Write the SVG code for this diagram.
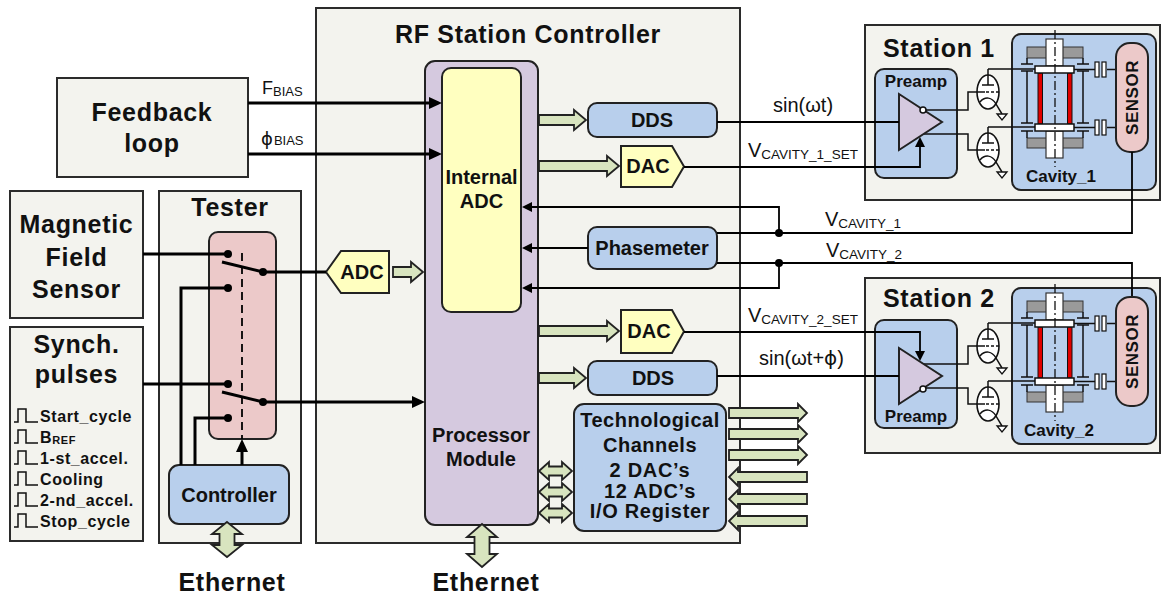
<svg xmlns="http://www.w3.org/2000/svg" width="1162" height="596" viewBox="0 0 1162 596">
<style>
text{font-family:"Liberation Sans",Arial,sans-serif;fill:#111}
.b{font-weight:bold}
.frame{fill:#f3f3ee;stroke:#2b2b2b;stroke-width:2}
.blue{fill:#b8cfec;stroke:#222;stroke-width:2}
.pink{fill:#ecc9c9;stroke:#222;stroke-width:2}
.lav{fill:#d5c9df;stroke:#222;stroke-width:2}
.yel{fill:#ffffc0;stroke:#222;stroke-width:2}
.grn{fill:#d8e4bf;stroke:#222;stroke-width:1.8}
.w{fill:none;stroke:#000;stroke-width:1.8}
.wt{fill:none;stroke:#000;stroke-width:3}
.thin{fill:none;stroke:#111;stroke-width:1.5}
.big{font-size:25px;font-weight:bold;letter-spacing:0.7px;text-anchor:middle}
.mid{font-size:20px;font-weight:bold;text-anchor:middle}
.sm{font-size:17px;font-weight:bold}
.pl{font-size:16px;font-weight:bold;letter-spacing:0.6px}
.lbl{font-size:20px}
.sub{font-size:13.5px}
.phi{font-family:"DejaVu Sans","Liberation Sans",sans-serif}
.dot{fill:#000}
</style>
<defs>
<marker id="ah" viewBox="0 0 13 12" refX="8" refY="6" markerWidth="13" markerHeight="12" markerUnits="userSpaceOnUse" orient="auto"><path d="M0,0 L13,6 L0,12 z" fill="#000"/></marker>
<marker id="as" viewBox="0 0 10 10" refX="7" refY="5" markerWidth="10" markerHeight="10" markerUnits="userSpaceOnUse" orient="auto"><path d="M0,0 L10,5 L0,10 z" fill="#000"/></marker>
<g id="tube">
<ellipse cx="0" cy="0" rx="11" ry="17" fill="#fff" stroke="#111" stroke-width="1.6"/>
<path d="M0,-23 V-7 M-6,-7 H6" class="thin"/>
<path d="M-11,0 H-3" class="thin"/>
<path d="M-2,0 H11" class="thin" stroke-dasharray="3 2"/>
<path d="M-8,10 C-3,4 4,5 8,12 L14,22" class="thin"/>
<polygon points="9,22 19,22 14,28" fill="#fff" stroke="#111" stroke-width="1.3"/>
</g>
<g id="cavityArt">
<rect class="blue" x="1012" y="34" width="144" height="156" rx="9"/>
<rect x="1027" y="47" width="56" height="11" fill="#9a9a9a" stroke="#333" stroke-width="1"/>
<rect x="1027" y="138" width="56" height="10" fill="#9a9a9a" stroke="#333" stroke-width="1"/>
<path class="thin" d="M1027,58 V64 M1021,64 H1033 M1021,71 H1033 M1027,71 V123 M1021,123 H1033 M1021,131 H1033 M1027,131 V138 M1083,58 V64 M1077,64 H1089 M1077,71 H1089 M1083,71 V123 M1077,123 H1089 M1077,131 H1089 M1083,131 V138"/>
<rect x="1046" y="39" width="17" height="27" fill="#fff" stroke="#333" stroke-width="1.2"/>
<rect x="1046" y="131" width="17" height="27" fill="#fff" stroke="#333" stroke-width="1.2"/>
<rect x="1038" y="73" width="4.5" height="51" fill="#e00000" stroke="#111" stroke-width="1"/>
<rect x="1067.5" y="73" width="4.5" height="51" fill="#e00000" stroke="#111" stroke-width="1"/>
<rect x="1035" y="66" width="39" height="7" fill="#fff" stroke="#111" stroke-width="1.5"/>
<rect x="1035" y="124" width="39" height="7" fill="#fff" stroke="#111" stroke-width="1.5"/>
<path d="M1055,30 V167" fill="none" stroke="#111" stroke-width="1.3" stroke-dasharray="9 3 2 3"/>
<path class="thin" d="M1074,69.5 H1095 M1107,69.5 H1116 M1074,127.5 H1095 M1107,127.5 H1116"/>
<rect x="1095" y="62" width="4" height="15" fill="#fff" stroke="#111" stroke-width="1.2"/>
<rect x="1102" y="62" width="4" height="15" fill="#fff" stroke="#111" stroke-width="1.2"/>
<rect x="1095" y="120" width="4" height="15" fill="#fff" stroke="#111" stroke-width="1.2"/>
<rect x="1102" y="120" width="4" height="15" fill="#fff" stroke="#111" stroke-width="1.2"/>
<rect class="pink" x="1116" y="43" width="32" height="109" rx="14"/>
<path class="thin" d="M988,69 H1035 M988,127 H1035"/>
<use href="#tube" x="988" y="92"/>
<use href="#tube" x="988" y="150"/>
<path class="thin" d="M923,110 H968 V92 H977 M923,134 H968 V150 H977"/>
<polygon class="lav" points="899,94 899,150 942,122" stroke-width="1.5"/>
</g>
</defs>
<rect width="1162" height="596" fill="#fff"/>

<g id="rf-controller">
<rect class="frame" x="316" y="8" width="424" height="535"/>
<text class="big" x="528" y="43" letter-spacing="1">RF Station Controller</text>
</g>
<g id="feedback-loop">
<rect class="frame" x="57" y="78" width="191" height="99"/>
<text class="big" x="152" y="121">Feedback</text>
<text class="big" x="152" y="152">loop</text>
</g>
<g id="magnetic-sensor">
<rect class="frame" x="10" y="191" width="133" height="127"/>
<text class="big" x="76.5" y="233">Magnetic</text>
<text class="big" x="76.5" y="266">Field</text>
<text class="big" x="76.5" y="298">Sensor</text>
</g>
<g id="synch-pulses">
<rect class="frame" x="10" y="327" width="133" height="214"/>
<text class="big" x="76.5" y="353">Synch.</text>
<text class="big" x="76.5" y="383">pulses</text>
<path class="thin" stroke-width="1.6" d="M14,422 H18 V409 H26 V422 H38 M14,443 H18 V430 H26 V443 H38 M14,464 H18 V451 H26 V464 H38 M14,485 H18 V472 H26 V485 H38 M14,506 H18 V493 H26 V506 H38 M14,527 H18 V514 H26 V527 H38"/>
<text class="pl" x="40" y="422">Start_cycle</text>
<text class="pl" x="40" y="443">B<tspan font-size="11" dy="1">REF</tspan></text>
<text class="pl" x="40" y="464">1-st_accel.</text>
<text class="pl" x="40" y="485">Cooling</text>
<text class="pl" x="40" y="506">2-nd_accel.</text>
<text class="pl" x="40" y="527">Stop_cycle</text>
</g>
<g id="tester">
<rect class="frame" x="159" y="191" width="142" height="352"/>
<text class="big" x="230" y="216">Tester</text>
<rect class="pink" x="209" y="232" width="67" height="207" rx="9"/>
<path d="M242,253 V439" fill="none" stroke="#000" stroke-width="1.8" stroke-dasharray="8 5"/>
<path class="wt" d="M222,262 L263,272 M222,392 L263,402"/>
<circle class="dot" cx="228" cy="254" r="4"/>
<circle class="dot" cx="228" cy="288" r="4"/>
<circle class="dot" cx="263" cy="272" r="4"/>
<circle class="dot" cx="228" cy="384" r="4"/>
<circle class="dot" cx="228" cy="418" r="4"/>
<circle class="dot" cx="263" cy="402" r="4"/>
</g>
<g id="controller">
<rect class="blue" x="169" y="465" width="120" height="59" rx="10"/>
<text class="mid" x="229" y="502">Controller</text>
</g>
<g id="adc">
<polygon class="yel" points="326,272 341,251 389,251 389,293 341,293"/>
<text class="mid" x="362" y="279">ADC</text>
</g>
<g id="processor-module">
<rect class="lav" x="425" y="61" width="113" height="464" rx="10"/>
<text class="mid" x="481" y="442" font-size="21">Processor</text>
<text class="mid" x="481" y="466" font-size="21">Module</text>
</g>
<g id="internal-adc">
<rect class="yel" x="442" y="68" width="79" height="244" rx="9"/>
<text class="mid" x="481.5" y="184" font-size="18.5">Internal</text>
<text class="mid" x="481.5" y="208" font-size="18.5">ADC</text>
</g>
<g id="dds1">
<rect class="blue" x="588" y="103" width="129" height="34" rx="9"/>
<text class="mid" x="652" y="127">DDS</text>
</g>
<g id="dac1">
<polygon class="yel" points="621,146 672,146 684,166.5 672,187 621,187"/>
<text class="mid" x="648" y="173">DAC</text>
</g>
<g id="phasemeter">
<rect class="blue" x="588" y="227" width="129" height="42" rx="9"/>
<text class="mid" x="652" y="255">Phasemeter</text>
</g>
<g id="dac2">
<polygon class="yel" points="621,310 672,310 684,331.5 672,353 621,353"/>
<text class="mid" x="649" y="338">DAC</text>
</g>
<g id="dds2">
<rect class="blue" x="588" y="361" width="129" height="34" rx="9"/>
<text class="mid" x="653" y="385">DDS</text>
</g>
<g id="tech-channels">
<rect class="blue" x="574" y="404" width="152" height="127" rx="10"/>
<text class="mid" x="650" y="427" letter-spacing="0.5">Technological</text>
<text class="mid" x="650" y="452" letter-spacing="0.5">Channels</text>
<text class="mid" x="650" y="477" font-size="16.5" letter-spacing="0.7">2 DAC’s</text>
<text class="mid" x="650" y="498" font-size="16.5" letter-spacing="0.7">12 ADC’s</text>
<text class="mid" x="650" y="518" font-size="16.5" letter-spacing="0.7">I/O Register</text>
</g>
<g id="station1">
<rect class="frame" x="865" y="25" width="295" height="175"/>
<text class="b" x="883" y="57" font-size="25" letter-spacing="0.7">Station 1</text>
<rect class="blue" x="875" y="69" width="82" height="109" rx="9"/>
<text class="sm" x="916" y="87" text-anchor="middle">Preamp</text>
<use href="#cavityArt"/>
<circle cx="923" cy="110" r="3" fill="#fff" stroke="#111" stroke-width="1.5"/>
<text class="sm" x="1026" y="182">Cavity_1</text>
<text class="sm" transform="translate(1138,97.5) rotate(-90)" text-anchor="middle" letter-spacing="0.5">SENSOR</text>
</g>
<g id="station2">
<rect class="frame" x="865" y="278" width="295" height="175"/>
<text class="b" x="883" y="307" font-size="25" letter-spacing="0.7">Station 2</text>
<rect class="blue" x="875" y="320" width="82" height="108" rx="9"/>
<text class="sm" x="916" y="422" text-anchor="middle">Preamp</text>
<use href="#cavityArt" transform="translate(0,254)"/>
<circle cx="923" cy="389" r="3" fill="#fff" stroke="#111" stroke-width="1.5"/>
<text class="sm" x="1024" y="436">Cavity_2</text>
<text class="sm" transform="translate(1138,351.5) rotate(-90)" text-anchor="middle" letter-spacing="0.5">SENSOR</text>
</g>

<g id="connectors">
<path class="wt" d="M248,103 H437" marker-end="url(#ah)"/>
<path class="wt" d="M248,154 H437" marker-end="url(#ah)"/>
<path class="wt" d="M143,254 H228 M143,384 H228 M263,272 H326 M181,465 V288 H228 M195,465 V418 H228"/>
<path class="wt" d="M263,402 H420" marker-end="url(#ah)"/>
<path class="wt" d="M242,465 V444" marker-end="url(#ah)"/>
<path class="w" d="M717,122 H899 M717,376 H899"/>
<path class="w" d="M684,167 H920 V140" marker-end="url(#as)"/>
<path class="w" d="M684,332 H920 V358" marker-end="url(#as)"/>
<path class="w" d="M1132,152 V233 H717 M1132,296 V263 H717"/>
<path class="w" d="M779,233 V207 H525" marker-end="url(#as)"/>
<path class="w" d="M588,248 H525" marker-end="url(#as)"/>
<path class="w" d="M779,263 V288 H525" marker-end="url(#as)"/>
<circle class="dot" cx="779" cy="233" r="4"/>
<circle class="dot" cx="779" cy="263" r="4"/>
<polygon class="grn" points="393,267 411,267 411,262 423,272 411,282 411,277 393,277"/>
<polygon class="grn" points="539,115 574,115 574,110 586,120 574,130 574,125 539,125"/>
<polygon class="grn" points="539,161 607,161 607,156 619,166 607,176 607,171 539,171"/>
<polygon class="grn" points="539,326 607,326 607,321 619,331 607,341 607,336 539,336"/>
<polygon class="grn" points="539,373 574,373 574,368 586,378 574,388 574,383 539,383"/>
<polygon class="grn" points="539,471 549,462 549,466.5 562,466.5 562,462 572,471 562,480 562,475.5 549,475.5 549,480"/>
<polygon class="grn" points="539,492 549,483 549,487.5 562,487.5 562,483 572,492 562,501 562,496.5 549,496.5 549,501"/>
<polygon class="grn" points="539,513 549,504 549,508.5 562,508.5 562,504 572,513 562,522 562,517.5 549,517.5 549,522"/>
<polygon class="grn" points="729,408 798,408 798,404 807,413 798,422 798,418 729,418"/>
<polygon class="grn" points="729,429 798,429 798,425 807,434 798,443 798,439 729,439"/>
<polygon class="grn" points="729,450 798,450 798,446 807,455 798,464 798,460 729,460"/>
<polygon class="grn" points="807,472 738,472 738,468 729,477 738,486 738,482 807,482"/>
<polygon class="grn" points="807,494 738,494 738,490 729,499 738,508 738,504 807,504"/>
<polygon class="grn" points="807,516 738,516 738,512 729,521 738,530 738,526 807,526"/>
<polygon class="grn" points="227,522 242,534 234.5,534 234.5,545 242,545 227,557 212,545 219.5,545 219.5,534 212,534"/>
<polygon class="grn" points="482,524 497,537 489.5,537 489.5,554 497,554 482,567 467,554 474.5,554 474.5,537 467,537"/>
<text x="262" y="94" font-size="18">F<tspan font-size="13" dy="1.5">BIAS</tspan></text>
<text x="261" y="145" font-size="18"><tspan class="phi">ϕ</tspan><tspan font-size="13" dx="1">BIAS</tspan></text>
<text class="lbl" x="773" y="112">sin(ωt)</text>
<text class="lbl" x="748" y="157" font-size="21">V<tspan class="sub" dy="2">CAVITY_1_SET</tspan></text>
<text class="lbl" x="825" y="226" font-size="21">V<tspan class="sub" dy="1.5">CAVITY_1</tspan></text>
<text class="lbl" x="826" y="257" font-size="21">V<tspan class="sub" dy="1.5">CAVITY_2</tspan></text>
<text class="lbl" x="748" y="322" font-size="21">V<tspan class="sub" dy="2">CAVITY_2_SET</tspan></text>
<text class="lbl" x="759" y="365">sin(ωt+<tspan class="phi">ϕ</tspan>)</text>
<text class="big" x="232" y="591">Ethernet</text>
<text class="big" x="486" y="591">Ethernet</text>
</g>
</svg>
